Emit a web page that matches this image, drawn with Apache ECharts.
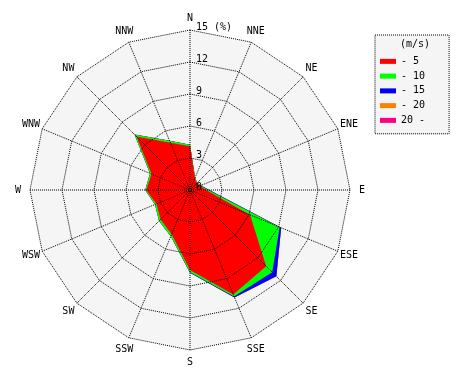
<!DOCTYPE html>
<html><head><meta charset="utf-8">
<script src="https://cdn.jsdelivr.net/npm/echarts@6/dist/echarts.min.js"></script>
<style>html,body{margin:0;padding:0;background:#fff}#c{width:470px;height:380px}</style>
</head><body><div id="c"></div>
<script>
// Directions, clockwise from north
const directions = ['N','NNE','NE','ENE','E','ESE','SE','SSE','S','SSW','SW','WSW','W','WNW','NW','NNW'];
// Wind speed classes (m/s)
const speedClasses = ['- 5','- 10','- 15','- 20','20 -'];
// Frequency (%) per speed class, per direction (not cumulative)
const freq5      = [4.1, 1.2, 0.9, 1.0, 1.5, 6.1, 10.1, 10.6, 7.5, 4.5, 3.9, 3.4, 4.1, 3.9, 7.1, 4.8];
const freq10     = [0.15,0.05,0.05,0.05,0.2, 3.0, 0.8,  0.2,  0.2, 0.2, 0.2, 0.15,0.1, 0.15,0.25,0.2];
const freq15     = [0,   0,   0,   0.05,0.1, 0.15,0.55, 0.1,  0.05,0,   0,   0,   0,   0,   0,   0];
const freq20     = [0,   0,   0,   0,   0,   0,   0,    0,    0,   0,   0,   0,   0,   0,   0,   0];
const freq20plus = [0,   0,   0,   0,   0,   0,   0,    0,    0,   0,   0,   0,   0,   0,   0,   0];
const radialTicks = [0, 3, 6, 9, 12, 15];
const classColors = ['#ff0000','#00ff00','#0000ff','#ff8000','#ff0080'];

const FONT = 'DejaVu Sans Mono';
const classes = [freq5, freq10, freq15, freq20, freq20plus];
const cumulative = [];
classes.forEach((arr, k) => {
  cumulative.push(arr.map((v, i) => +(v + (k ? cumulative[k-1][i] : 0)).toFixed(3)));
});
// radar lays indicators counter-clockwise: reorder so result is clockwise
const order = [0].concat(directions.map((d, i) => i).slice(1).reverse());
const rMax = radialTicks[radialTicks.length - 1];
const indicators = order.map(i => ({ name: directions[i], min: 0, max: rMax }));

const seriesData = [];
for (let k = classes.length - 1; k >= 0; k--) {
  seriesData.push({
    name: speedClasses[k],
    value: order.map(i => cumulative[k][i]),
    itemStyle: { color: classColors[k] },
    areaStyle: { color: classColors[k], opacity: 1 },
    lineStyle: { width: 0, opacity: 0 },
    symbol: 'none'
  });
}

const chart = echarts.init(document.getElementById('c'), null, { renderer: 'canvas' });
chart.setOption({
  animation: false,
  backgroundColor: '#ffffff',
  title: {
    text: '(m/s)', left: 400, top: 39, padding: 0,
    textStyle: { fontFamily: FONT, fontSize: 10, fontWeight: 'normal', color: '#000' },
    z: 10
  },
  legend: {
    orient: 'vertical', left: 375, top: 35,
    padding: [19, 24, 6, 5],
    itemWidth: 16, itemHeight: 5, itemGap: 0, icon: 'rect',
    backgroundColor: '#f5f5f5', borderColor: '#000', borderWidth: 1, borderType: 'dotted',
    textStyle: { fontFamily: FONT, fontSize: 10, color: '#000', lineHeight: 14.75 },
    data: speedClasses, selectedMode: false
  },
  radar: [{
    center: [190, 190], radius: 160, startAngle: 90, shape: 'polygon', splitNumber: 5,
    indicator: indicators,
    nameGap: 12,
    axisName: { color: '#000', fontFamily: FONT, fontSize: 10, align: 'center', verticalAlign: 'middle' },
    splitArea: { show: true, areaStyle: { color: ['#f5f5f5'] } },
    splitLine: { show: false }, axisLine: { show: false }, axisTick: { show: false }, axisLabel: { show: false },
    z: 0
  }, {
    center: [190, 190], radius: 160, startAngle: 90, shape: 'polygon', splitNumber: 5,
    indicator: indicators,
    axisName: { show: false },
    splitArea: { show: false },
    splitLine: { show: true, lineStyle: { color: '#000', width: 1, type: 'dotted' } },
    axisLine: { show: false },
    axisTick: { show: false }, axisLabel: { show: false },
    z: 3
  }],
  polar: { center: [190, 190], radius: 160 },
  angleAxis: {
    type: 'value', min: 0, max: 360, interval: 360 / directions.length, startAngle: 90,
    axisLine: { show: false }, axisTick: { show: false }, axisLabel: { show: false },
    splitLine: { show: true, lineStyle: { color: '#000', width: 1, type: 'dotted' } },
    z: 3
  },
  radiusAxis: {
    type: 'value', min: 0, max: rMax, interval: 3,
    axisLine: { show: false }, axisTick: { show: false }, splitLine: { show: false },
    axisLabel: {
      show: true, margin: -6, align: 'left', verticalAlign: 'bottom', lineHeight: 6,
      fontFamily: FONT, fontSize: 10, color: '#000',
      formatter: v => (v === rMax ? v + ' (%)' : String(v))
    },
    z: 4
  },
  series: [{
    type: 'radar', radarIndex: 0, z: 2, silent: true,
    data: seriesData
  }]
});
</script></body></html>
